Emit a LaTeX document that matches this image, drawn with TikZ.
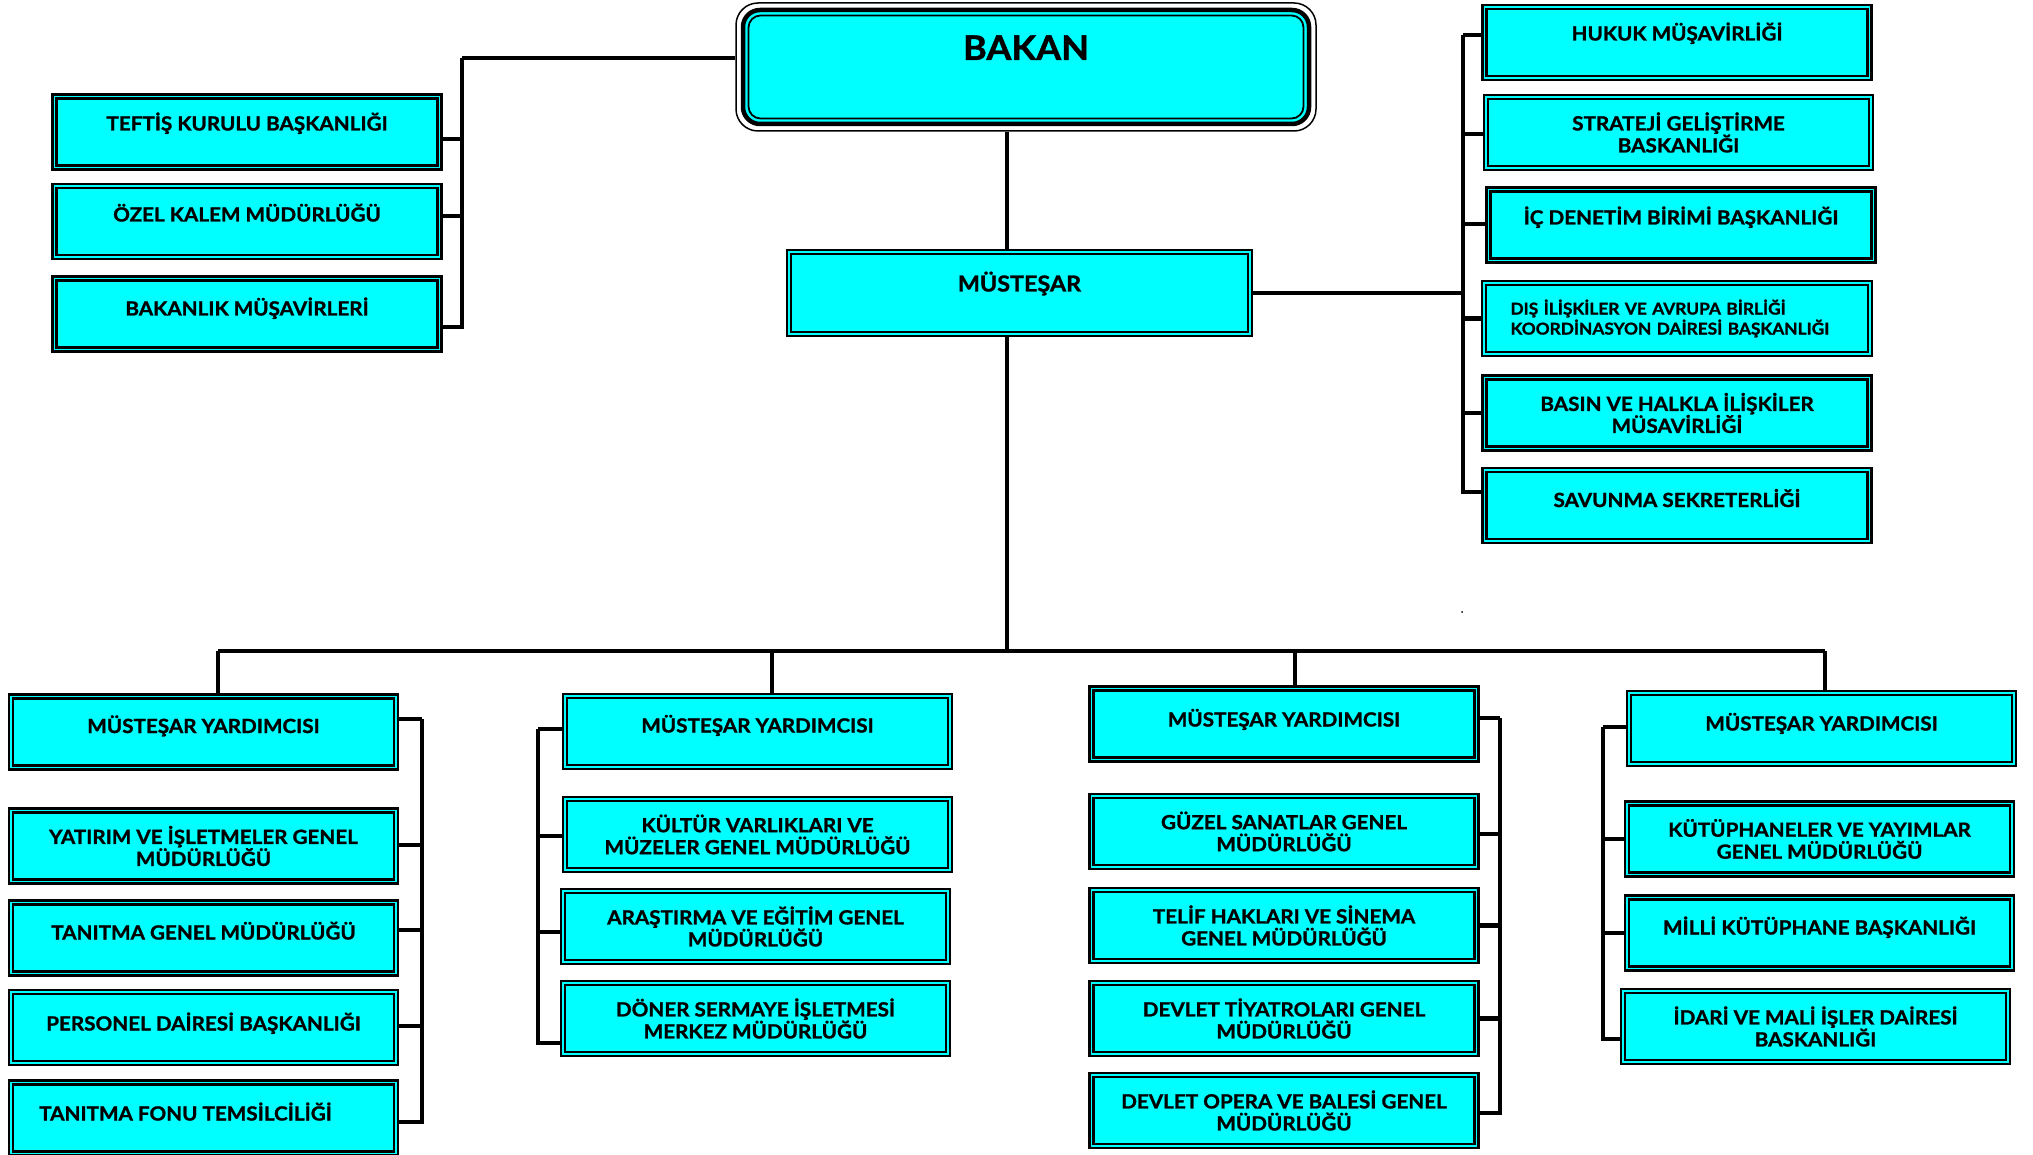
\documentclass[tikz,border=0pt]{standalone}
\usepackage{fontspec}
\setmainfont{Lato}[BoldFeatures={FakeBold=1.2, FakeStretch=1.06}]
\definecolor{aqua}{RGB}{0,255,255}
\newcommand\boxfont{\fontsize{19.5}{22}\selectfont\bfseries}
\newcommand\smallboxfont{\fontsize{16.3}{20}\selectfont\bfseries}
\newcommand\midfont{\fontsize{22}{25}\selectfont\bfseries}
\newcommand\bigfont{\fontsize{34}{38}\selectfont\bfseries}
\tikzset{
  box/.style={draw=black, line width=2.5pt, double=aqua, double distance=1.5pt, fill=aqua,
    inner sep=0pt, align=center, font=\boxfont, minimum width=385pt, minimum height=71pt},
  one/.style={text height=14pt, text depth=#1},
  conn/.style={line width=4.5pt, line join=miter},
  bakanbox/.style={draw=black, line width=1.5pt, fill=white, rounded corners=22pt,
    minimum width=580pt, minimum height=128pt, inner sep=0pt, font=\bigfont,
    path picture={
      \draw[line width=4.5pt, fill=aqua, rounded corners=17pt]
        ([shift={(7pt,-7pt)}]path picture bounding box.north west) rectangle
        ([shift={(-7pt,7pt)}]path picture bounding box.south east);
      \draw[line width=1.8pt, rounded corners=12pt]
        ([shift={(12.5pt,-12.5pt)}]path picture bounding box.north west) rectangle
        ([shift={(-12.5pt,12.5pt)}]path picture bounding box.south east);
    }}
}
\begin{document}
\begin{tikzpicture}[x=1pt, y=-1pt]
\fill[white] (0,0) rectangle (2033,1155);
\useasboundingbox (0,0) rectangle (2033,1155);

% top
\node[bakanbox, text height=24pt, text depth=38pt] (bakan) at (1026,67) {BAKAN};
\node[box, minimum width=461pt, minimum height=82pt, font=\midfont, text height=16pt, text depth=19pt] (mustesar) at (1019.5,293) {MÜSTEŞAR};

% left group
\node[box, one=17pt] (teftis) at (247,132) {TEFTİŞ KURULU BAŞKANLIĞI};
\node[box, one=14pt] (ozel) at (247,221.5) {ÖZEL KALEM MÜDÜRLÜĞÜ};
\node[box, one=11pt] (bakanlik) at (247,314) {BAKANLIK MÜŞAVİRLERİ};

% right group
\node[box, one=18pt] (hukuk) at (1677,42.5) {HUKUK MÜŞAVİRLİĞİ};
\node[box] (strateji) at (1678.5,132.5) {STRATEJİ GELİŞTİRME\\BASKANLIĞI};
\node[box, one=15pt] (icden) at (1681,225) {İÇ DENETİM BİRİMİ BAŞKANLIĞI};
\node[box, font=\smallboxfont, align=left, inner xsep=26.5pt, text width=333pt] (dis) at (1677,318.5) {DIŞ İLİŞKİLER VE AVRUPA BİRLİĞİ\\KOORDİNASYON DAİRESİ BAŞKANLIĞI};
\node[box] (basin) at (1677,413) {BASIN VE HALKLA İLİŞKİLER\\MÜSAVİRLİĞİ};
\node[box, one=11pt] (savunma) at (1677,505.5) {SAVUNMA SEKRETERLİĞİ};

% column 1
\node[box, one=12pt] (my1) at (203.5,732) {MÜSTEŞAR YARDIMCISI};
\node[box] (yatirim) at (203.5,846) {YATIRIM VE İŞLETMELER GENEL\\MÜDÜRLÜĞÜ};
\node[box, one=11pt] (tanitmag) at (203.5,938) {TANITMA GENEL MÜDÜRLÜĞÜ};
\node[box, one=8pt] (personel) at (203.5,1027.5) {PERSONEL DAİRESİ BAŞKANLIĞI};
\node[box, one=9pt] (fonu) at (203.5,1118) {TANITMA FONU TEMSİLCİLİĞİ\hspace*{36pt}};

% column 2
\node[box, one=12pt] (my2) at (757.5,731.5) {MÜSTEŞAR YARDIMCISI};
\node[box] (kultur) at (757.5,834.5) {KÜLTÜR VARLIKLARI VE\\MÜZELER GENEL MÜDÜRLÜĞÜ};
\node[box] (arastirma) at (755.5,926.5) {ARAŞTIRMA VE EĞİTİM GENEL\\MÜDÜRLÜĞÜ};
\node[box] (doner) at (755.5,1018.5) {DÖNER SERMAYE İŞLETMESİ\\MERKEZ MÜDÜRLÜĞÜ};

% column 3
\node[box, one=9pt] (my3) at (1284,724) {MÜSTEŞAR YARDIMCISI};
\node[box] (guzel) at (1284,831.5) {GÜZEL SANATLAR GENEL\\MÜDÜRLÜĞÜ};
\node[box] (telif) at (1284,925.5) {TELİF HAKLARI VE SİNEMA\\GENEL MÜDÜRLÜĞÜ};
\node[box] (tiyatro) at (1284,1018.5) {DEVLET TİYATROLARI GENEL\\MÜDÜRLÜĞÜ};
\node[box] (opera) at (1284,1110.5) {DEVLET OPERA VE BALESİ GENEL\\MÜDÜRLÜĞÜ};

% column 4
\node[box, one=10pt] (my4) at (1821.5,728.5) {MÜSTEŞAR YARDIMCISI};
\node[box] (kutup) at (1819.5,839) {KÜTÜPHANELER VE YAYIMLAR\\GENEL MÜDÜRLÜĞÜ};
\node[box, one=11pt] (milli) at (1819.5,933) {MİLLİ KÜTÜPHANE BAŞKANLIĞI};
\node[box] (idari) at (1815.5,1026.5) {İDARİ VE MALİ İŞLER DAİRESİ\\BASKANLIĞI};

% coordinates of bars
\coordinate (lvt) at (462,58);
\coordinate (rvt) at (1463,35);
\coordinate (bus) at (1007,651);
\coordinate (d1) at (218,651);
\coordinate (d2) at (772,651);
\coordinate (d3) at (1295,651);
\coordinate (d4) at (1825,651);
\coordinate (c1t) at (422,719);
\coordinate (c2t) at (538,729);
\coordinate (c3t) at (1500,718);
\coordinate (c4t) at (1603,727);

% left group connectors
\draw[conn] (bakan.west |- lvt) -- (lvt);
\draw[conn] ([yshift=-7pt]teftis.east) -| (lvt);
\draw[conn] ([yshift=5.5pt]ozel.east) -| (lvt);
\draw[conn] ([yshift=-13pt]bakanlik.east) -| (lvt);

% right group connectors
\draw[conn] (hukuk.west |- rvt) -- (rvt);
\draw[conn] (mustesar.east) -| (rvt);
\draw[conn] ([yshift=-1.5pt]strateji.west) -| (rvt);
\draw[conn] ([yshift=1pt]icden.west) -| (rvt);
\draw[conn] (dis.west) -| (rvt);
\draw[conn] (basin.west) -| (rvt);
\draw[conn] ([yshift=13.5pt]savunma.west) -| (rvt);

% main spine and bus
\draw[conn] (bakan.south -| bus) -- (mustesar.north -| bus);
\draw[conn] (mustesar.south -| bus) -- (bus);
\draw[conn] (d1) -- (d4);
\draw[conn] (d1) -- (d1 |- my1.north);
\draw[conn] (d2) -- (d2 |- my2.north);
\draw[conn] (d3) -- (d3 |- my3.north);
\draw[conn] (d4) -- (d4 |- my4.north);

% column 1
\draw[conn] (my1.east |- c1t) -- (c1t);
\draw[conn] ([yshift=1pt]yatirim.east) -| (c1t);
\draw[conn] ([yshift=8pt]tanitmag.east) -| (c1t);
\draw[conn] ([yshift=1.5pt]personel.east) -| (c1t);
\draw[conn] ([yshift=-4pt]fonu.east) -| (c1t);

% column 2
\draw[conn] (my2.west |- c2t) -- (c2t);
\draw[conn] ([yshift=-1.5pt]kultur.west) -| (c2t);
\draw[conn] ([yshift=-5.5pt]arastirma.west) -| (c2t);
\draw[conn] ([yshift=-24.5pt]doner.west) -| (c2t);

% column 3
\draw[conn] (my3.east |- c3t) -- (c3t);
\draw[conn] ([yshift=-2.5pt]guzel.east) -| (c3t);
\draw[conn] (telif.east) -| (c3t);
\draw[conn] (tiyatro.east) -| (c3t);
\draw[conn] ([yshift=-2.5pt]opera.east) -| (c3t);

% column 4
\draw[conn] (my4.west |- c4t) -- (c4t);
\draw[conn] ([xshift=-2pt]kutup.west) -| (c4t);
\draw[conn] (milli.west) -| (c4t);
\draw[conn] ([yshift=-12.5pt]idari.west) -| (c4t);

% stray dot
\fill (1462,612) circle (1pt);
\end{tikzpicture}
\end{document}
